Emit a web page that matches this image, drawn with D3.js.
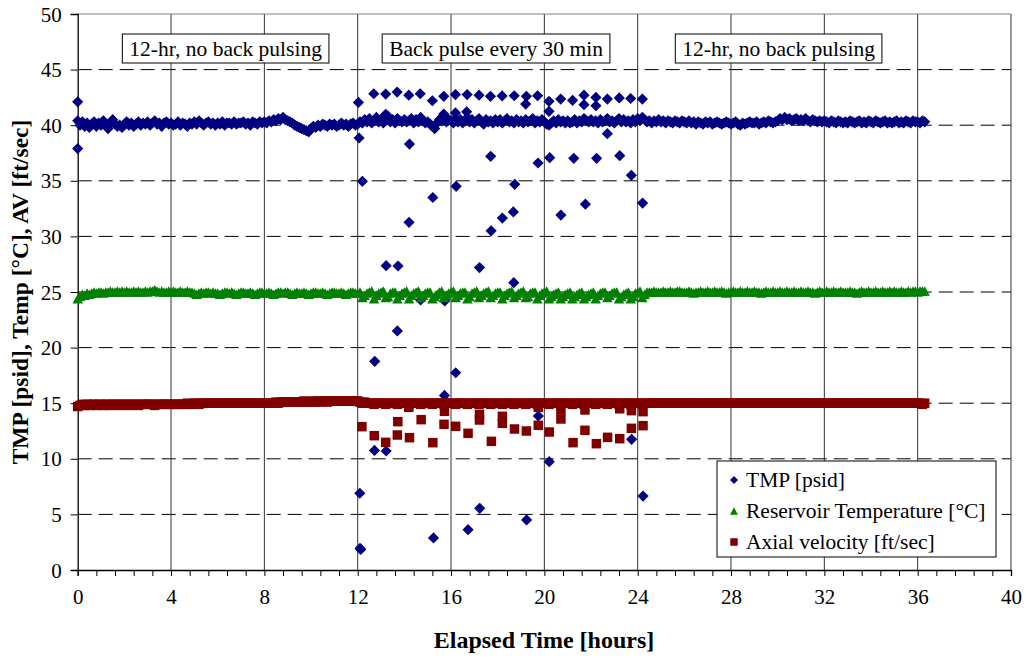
<!DOCTYPE html>
<html>
<head>
<meta charset="utf-8">
<script src="https://cdn.jsdelivr.net/npm/d3@7"></script>
<style>
  body { margin: 0; background: #fff; }
  svg { display: block; }
  text { font-family: "Liberation Serif", "Times New Roman", serif; fill: #000; }
</style>
</head>
<body>
<svg id="chart" width="1026" height="659"></svg>
<script>
// Logged readings, one sample every 0.1 h from t = 0 to 36.3 h
const sampleStep = 0.1;

// Transmembrane pressure [psid], rows of one hour
const tmpSeries = [
  40.4,40.0,40.3,39.9,40.2,39.8,40.1,40.3,39.9,40.2,
  40.0,40.4,40.1,39.7,40.2,40.5,40.1,39.9,40.0,39.8,
  40.1,40.3,40.0,40.2,39.9,40.1,40.3,40.0,40.2,40.1,
  40.3,40.0,40.2,40.4,40.1,40.2,39.9,40.2,40.3,40.1,
  40.2,40.0,40.1,40.3,40.0,40.2,40.1,39.9,40.2,40.1,
  40.3,40.1,40.4,40.2,40.0,40.2,40.3,40.1,40.2,40.0,
  40.2,40.1,40.3,40.0,40.2,40.2,40.1,40.3,40.1,40.2,
  40.2,40.3,40.1,40.2,40.0,40.3,40.2,40.1,40.3,40.2,
  40.3,40.2,40.4,40.3,40.5,40.4,40.6,40.5,40.7,40.5,
  40.4,40.3,40.2,40.0,39.9,39.8,39.7,39.6,39.5,39.4,
  39.7,39.9,39.8,40.0,39.9,40.1,40.0,39.9,40.1,40.0,
  40.1,39.9,40.0,40.2,40.0,40.1,39.9,40.1,40.2,40.0,
  40.1,40.3,40.2,40.5,40.3,40.6,40.2,40.4,40.7,40.3,
  40.5,40.2,40.4,40.8,40.3,40.5,40.2,40.6,40.4,40.3,
  40.5,40.3,40.4,40.6,40.2,40.5,40.3,40.7,40.4,40.2,
  40.3,40.1,39.9,39.7,40.2,40.5,40.4,40.8,40.3,40.5,
  40.4,40.2,40.6,40.3,40.5,40.2,40.4,40.7,40.3,40.5,
  40.2,40.4,40.6,40.3,40.1,40.5,40.3,40.4,40.2,40.5,
  40.3,40.5,40.2,40.4,40.6,40.3,40.4,40.2,40.5,40.3,
  40.4,40.2,40.5,40.3,40.4,40.6,40.2,40.4,40.3,40.5,
  40.3,40.1,40.0,40.2,40.4,40.2,40.5,40.3,40.4,40.2,
  40.4,40.2,40.3,40.5,40.2,40.4,40.3,40.6,40.4,40.3,
  40.5,40.3,40.4,40.2,40.5,40.3,40.4,40.6,40.3,40.4,
  40.2,40.4,40.6,40.3,40.5,40.3,40.4,40.2,40.5,40.3,
  40.6,40.4,40.7,40.5,40.3,40.4,40.2,40.4,40.3,40.5,
  40.3,40.4,40.2,40.4,40.3,40.2,40.4,40.3,40.2,40.4,
  40.3,40.2,40.4,40.2,40.3,40.1,40.3,40.2,40.1,40.3,
  40.2,40.3,40.1,40.2,40.3,40.2,40.1,40.2,40.3,40.2,
  40.1,40.2,40.3,40.1,40.0,40.2,40.1,40.2,40.3,40.2,
  40.2,40.3,40.1,40.2,40.3,40.2,40.4,40.3,40.2,40.3,
  40.4,40.6,40.5,40.7,40.5,40.6,40.4,40.5,40.6,40.4,
  40.5,40.4,40.6,40.4,40.3,40.5,40.4,40.3,40.4,40.3,
  40.4,40.3,40.2,40.4,40.3,40.2,40.4,40.3,40.2,40.3,
  40.2,40.4,40.3,40.2,40.3,40.4,40.2,40.3,40.2,40.4,
  40.3,40.2,40.4,40.3,40.2,40.3,40.4,40.2,40.3,40.2,
  40.3,40.4,40.2,40.3,40.2,40.4,40.3,40.2,40.4,40.3,
  40.3,40.2,40.4,40.3
];

// Reservoir temperature [°C]
const tempSeries = [
  24.4,24.6,24.8,24.7,24.9,24.8,24.9,25.0,24.9,25.0,
  25.0,24.9,25.0,25.0,25.1,25.0,25.0,25.1,25.0,25.1,
  25.0,25.1,25.0,25.0,25.1,25.0,25.1,25.0,25.0,25.1,
  25.0,25.1,25.1,25.2,25.1,25.0,25.1,25.0,25.0,25.1,
  25.0,25.1,25.0,25.0,25.1,25.0,25.0,25.1,25.0,25.0,
  24.9,24.8,24.9,25.0,24.9,25.0,25.0,24.9,25.0,24.9,
  24.9,24.8,24.9,25.0,25.0,24.9,25.0,24.9,24.8,24.9,
  25.0,25.0,24.9,24.9,25.0,24.9,24.8,24.9,25.0,25.0,
  24.9,24.9,25.0,24.9,24.8,24.9,25.0,25.0,24.9,25.0,
  25.0,24.9,24.8,24.9,25.0,24.9,24.9,25.0,24.9,24.8,
  24.9,25.0,25.0,24.9,24.9,25.0,24.9,24.8,24.9,25.0,
  25.0,24.9,24.9,25.0,24.9,24.8,24.9,25.0,25.0,24.9,
  24.9,25.0,24.5,24.7,24.9,25.0,25.1,24.4,24.7,24.9,
  25.0,25.1,24.5,24.6,24.9,25.0,25.0,24.4,24.7,24.9,
  25.0,25.1,24.4,24.7,24.9,25.0,25.1,24.5,24.7,24.9,
  25.0,25.0,24.4,24.6,24.8,25.0,25.1,24.5,24.7,24.9,
  25.0,25.1,24.5,24.7,24.9,25.0,25.0,24.4,24.6,24.9,
  25.0,25.1,24.5,24.7,24.9,25.0,25.1,24.5,24.7,24.9,
  25.0,25.0,24.4,24.7,24.9,25.0,25.1,24.5,24.7,24.9,
  25.0,25.1,24.5,24.6,24.9,25.0,25.0,24.4,24.7,24.9,
  25.0,25.1,24.4,24.6,24.8,24.9,25.0,24.4,24.6,24.8,
  24.9,25.0,24.4,24.6,24.8,24.9,25.0,24.4,24.6,24.8,
  24.9,25.0,24.4,24.7,24.9,25.0,25.0,24.5,24.7,24.9,
  25.0,25.0,24.4,24.6,24.8,24.9,25.0,24.4,24.6,24.9,
  25.0,25.1,24.5,24.8,25.0,25.0,25.0,25.1,25.0,25.0,
  25.0,25.1,25.0,25.0,25.1,25.0,25.0,25.1,25.1,25.0,
  25.0,25.0,25.1,25.0,24.9,25.0,25.0,25.1,25.0,25.0,
  25.1,25.0,25.0,25.1,25.0,25.0,25.1,25.0,24.9,25.0,
  25.0,25.1,25.0,25.0,25.1,25.0,25.0,25.1,25.0,25.0,
  25.1,25.0,25.0,24.9,25.0,25.1,25.0,25.0,25.1,25.0,
  25.0,25.1,25.0,25.0,25.1,25.0,25.0,25.1,25.0,25.0,
  25.1,25.0,25.0,25.1,25.0,25.0,24.9,25.0,25.1,25.0,
  25.0,25.1,25.0,25.0,25.1,25.0,25.0,25.1,25.0,25.0,
  25.0,25.1,25.0,25.0,24.9,25.0,25.1,25.0,25.0,25.1,
  25.0,25.0,25.1,25.0,25.0,25.1,25.0,25.0,25.1,25.0,
  25.1,25.0,25.0,25.1,25.0,25.0,25.1,25.0,25.1,25.1,
  25.0,25.1,25.1,25.1
];

// Axial velocity [ft/sec]
const avSeries = [
  14.7,14.8,14.9,14.8,14.9,14.8,14.9,14.9,14.8,14.9,
  14.9,14.8,14.9,14.9,14.8,14.9,14.9,14.9,14.8,14.9,
  14.9,14.9,14.8,14.9,14.9,14.9,14.8,14.9,14.9,14.9,
  14.9,14.9,14.9,14.8,14.9,14.9,14.9,14.9,14.9,14.9,
  14.9,14.9,14.9,14.9,14.9,14.9,14.9,15.0,14.9,14.9,
  15.0,15.0,14.9,15.0,15.0,15.0,15.0,15.0,15.0,15.0,
  15.0,15.0,15.0,15.0,15.0,15.0,15.0,15.0,15.0,15.0,
  15.0,15.0,15.0,15.0,15.0,15.0,15.0,15.0,15.0,15.0,
  15.0,15.0,15.0,15.0,15.0,15.1,15.0,15.1,15.1,15.1,
  15.1,15.1,15.1,15.1,15.1,15.1,15.1,15.2,15.1,15.1,
  15.1,15.2,15.1,15.2,15.1,15.2,15.2,15.1,15.2,15.2,
  15.2,15.2,15.2,15.2,15.2,15.2,15.2,15.2,15.2,15.2,
  15.2,15.1,15.0,15.1,15.0,15.0,15.0,14.9,15.0,15.0,
  15.0,15.0,14.9,15.0,15.0,15.0,15.0,14.9,15.0,15.0,
  15.0,15.0,14.9,15.0,15.0,15.0,15.0,14.9,15.0,15.0,
  15.0,15.0,14.9,15.0,15.0,15.0,15.0,14.9,15.0,15.0,
  15.0,15.0,14.9,15.0,15.0,15.0,15.0,14.9,15.0,15.0,
  15.0,15.0,14.9,15.0,15.0,15.0,15.0,14.9,15.0,15.0,
  15.0,15.0,14.9,15.0,15.0,15.0,15.0,14.9,15.0,15.0,
  15.0,15.0,14.9,15.0,15.0,15.0,15.0,14.9,15.0,15.0,
  15.0,15.0,14.9,15.0,15.0,15.0,15.0,14.9,15.0,15.0,
  15.0,15.0,14.9,15.0,15.0,15.0,15.0,14.9,15.0,15.0,
  15.0,15.0,14.9,15.0,15.0,15.0,15.0,14.9,15.0,15.0,
  15.0,15.0,14.9,15.0,15.0,15.0,15.0,14.9,15.0,15.0,
  15.0,15.0,14.9,15.0,15.0,15.0,15.0,15.0,15.0,15.0,
  15.0,15.0,15.0,15.0,15.0,15.0,15.0,15.0,15.0,15.0,
  15.0,15.0,15.0,15.0,15.0,15.0,15.0,15.0,15.0,15.0,
  15.0,15.0,15.0,15.0,15.0,15.0,15.0,15.0,15.0,15.0,
  15.0,15.0,15.0,15.0,15.0,15.0,15.0,15.0,15.0,15.0,
  15.0,15.0,15.0,15.0,15.0,15.0,15.0,15.0,15.0,15.0,
  15.0,15.0,15.0,15.0,15.0,15.0,15.0,15.0,15.0,15.0,
  15.0,15.0,15.0,15.0,15.0,15.0,15.0,15.0,15.0,15.0,
  15.0,15.0,15.0,15.0,15.0,15.0,15.0,15.0,15.0,15.0,
  15.0,15.0,15.0,15.0,15.0,15.0,15.0,15.0,15.0,15.0,
  15.0,15.0,15.0,15.0,15.0,15.0,15.0,15.0,15.0,15.0,
  15.0,15.0,15.0,15.0,15.0,15.0,15.0,15.0,15.0,15.0,
  15.0,15.0,14.9,15.0
];

// Extra TMP readings caught during start-up and the back-pulse transients
const tmpEventTime = [
  0.0, 0.0, 12.03, 12.06, 12.09, 12.10, 12.13, 12.20, 12.69, 12.72, 12.73,
  13.20, 13.20, 13.22, 13.22, 13.69, 13.70, 13.73,
  14.19, 14.22, 14.20, 14.68, 14.70,
  15.20, 15.22, 15.25, 15.69, 15.69, 15.72, 15.73,
  16.19, 16.19, 16.22, 16.20, 16.69, 16.67, 16.73,
  17.20, 17.22, 17.23, 17.69, 17.70, 17.72,
  18.19, 18.20, 18.71, 18.73, 18.67, 18.69,
  19.23, 19.20, 19.24, 19.71, 19.73, 19.74,
  20.20, 20.20, 20.23, 20.21, 20.70, 20.71,
  21.21, 21.26, 21.70, 21.70, 21.76,
  22.21, 22.21, 22.24, 22.70, 22.70,
  23.21, 23.23, 23.70, 23.73, 23.74,
  24.20, 24.21, 24.23
];
const tmpEventValue = [
  42.1, 37.9, 42.05, 38.85, 6.9, 1.95, 1.85, 34.95, 42.83, 10.75, 18.77,
  42.8, 40.98, 27.37, 10.7, 42.98, 21.5, 27.34,
  42.7, 38.3, 31.27, 42.83, 24.28,
  42.2, 33.5, 2.88, 42.6, 41.0, 15.7, 24.2,
  42.75, 41.1, 34.5, 17.74, 42.75, 41.2, 3.63,
  42.7, 27.2, 5.55, 42.6, 37.2, 30.5,
  42.63, 31.65, 42.65, 34.68, 32.2, 25.84,
  42.6, 41.9, 4.5, 42.65, 36.6, 13.85,
  42.15, 41.25, 37.08, 9.74, 42.35, 31.92,
  42.24, 37.02, 42.7, 41.85, 32.9,
  42.5, 41.75, 37.02, 42.35, 39.24,
  42.45, 37.26, 42.4, 35.49, 11.75,
  42.35, 33.0, 6.65
];

// Axial velocity readings during the back pulses
const avEventTime = [
  12.18, 12.71, 13.20, 13.72, 13.70, 14.22, 14.19, 14.72, 15.22, 15.72, 15.70,
  16.20, 16.73, 17.22, 17.22, 17.73, 18.20, 18.20, 18.72, 19.23, 19.74, 19.74,
  20.21, 20.71, 20.71, 21.23, 21.74, 21.74, 22.23, 22.71, 23.23, 23.23,
  23.73, 23.73, 24.23, 24.23
];
const avEventValue = [
  12.89, 12.08, 11.48, 13.34, 12.14, 11.9, 14.63, 13.52, 11.45, 14.27, 13.1,
  12.92, 12.29, 14.0, 13.49, 11.57, 13.82, 13.19, 12.68, 12.5, 13.01, 14.63,
  12.41, 14.39, 13.58, 11.45, 14.39, 12.56, 11.36, 11.93, 11.81, 14.5,
  12.74, 14.33, 12.98, 14.24
];

const xLabelTicks = [0, 4, 8, 12, 16, 20, 24, 28, 32, 36, 40];
const yTickValues = [0, 5, 10, 15, 20, 25, 30, 35, 40, 45, 50];
const phaseNames = ["12-hr, no back pulsing", "Back pulse every 30 min", "12-hr, no back pulsing"];
const seriesNames = ["TMP [psid]", "Reservoir Temperature [°C]", "Axial velocity [ft/sec]"];
const seriesColors = ["#000080", "#008000", "#800000"];

// ---- layout ----
const plot = { left: 77.7, right: 1011, top: 14, bottom: 570 };
const phaseCenterHours = [6.34, 17.93, 30.04];

const svg = d3.select("#chart");
const x = d3.scaleLinear().domain([0, 40]).range([plot.left, plot.right]);
const y = d3.scaleLinear().domain([0, 50]).range([plot.bottom, plot.top]);

const tOf = i => +(i * sampleStep).toFixed(2);

// marker shapes
const diamond = r => `M0,${-r}L${r},0L0,${r}L${-r},0Z`;
const triangle = (w, h) => `M0,${-h / 2}L${w / 2},${h / 2}L${-w / 2},${h / 2}Z`;
const square = s => `M${-s / 2},${-s / 2}h${s}v${s}h${-s}Z`;

// ---- grid ----
const grid = svg.append("g");
grid.selectAll("line.h").data(yTickValues.filter(v => v > 0 && v < 50)).join("line")
  .attr("x1", plot.left).attr("x2", plot.right)
  .attr("y1", d => y(d)).attr("y2", d => y(d))
  .attr("stroke", "#000").attr("stroke-width", 1)
  .attr("stroke-dasharray", "14,7");
grid.selectAll("line.v").data(xLabelTicks.filter(v => v > 0)).join("line")
  .attr("x1", d => x(d)).attr("x2", d => x(d))
  .attr("y1", plot.top).attr("y2", plot.bottom)
  .attr("stroke", "#333").attr("stroke-width", 1);
grid.append("line")
  .attr("x1", plot.left).attr("x2", plot.right)
  .attr("y1", y(50)).attr("y2", y(50))
  .attr("stroke", "#808080").attr("stroke-width", 1.2);

// ---- axes ----
const yAxis = d3.axisLeft(y).tickValues(yTickValues).tickSize(7).tickPadding(9)
  .tickFormat(d3.format("d"));
const yG = svg.append("g").attr("transform", `translate(${plot.left},0)`).call(yAxis);
yG.select(".domain").attr("stroke", "#000").attr("stroke-width", 1.3);
yG.selectAll(".tick line").attr("stroke", "#000");
yG.selectAll(".tick text").attr("font-size", 21).attr("font-family", "Liberation Serif").attr("dy", "0.34em");

const minorX = d3.range(0, 51).map(i => +(i * 0.8).toFixed(2));
const xAxis = d3.axisBottom(x).tickValues(minorX).tickSize(6).tickPadding(13)
  .tickFormat(d => xLabelTicks.includes(d) ? String(d) : "");
const xG = svg.append("g").attr("transform", `translate(0,${plot.bottom})`).call(xAxis);
xG.select(".domain").attr("stroke", "#000").attr("stroke-width", 1.3);
xG.selectAll(".tick line").attr("stroke", "#000");
xG.selectAll(".tick text").attr("font-size", 21).attr("font-family", "Liberation Serif");

// axis titles
svg.append("text")
  .attr("x", 544).attr("y", 648)
  .attr("text-anchor", "middle")
  .attr("font-size", 24).attr("font-weight", "bold")
  .text("Elapsed Time [hours]");
svg.append("text")
  .attr("transform", `translate(28,${(plot.top + plot.bottom) / 2}) rotate(-90)`)
  .attr("text-anchor", "middle")
  .attr("font-size", 23.5).attr("font-weight", "bold")
  .text("TMP [psid], Temp [°C], AV [ft/sec]");

// ---- series ----
const marks = svg.append("g");

const tmpPoints = [];
tmpSeries.forEach((v, i) => tmpPoints.push([tOf(i), v]));
tmpEventTime.forEach((t, i) => tmpPoints.push([t, tmpEventValue[i]]));
tmpPoints.sort((a, b) => a[0] - b[0]);

marks.append("g").selectAll("path").data(tmpPoints).join("path")
  .attr("transform", d => `translate(${x(d[0])},${y(d[1])})`)
  .attr("d", diamond(5.6))
  .attr("fill", seriesColors[0]);

marks.append("g").selectAll("path").data(tempSeries).join("path")
  .attr("transform", (d, i) => `translate(${x(tOf(i))},${y(d)})`)
  .attr("d", triangle(10.5, 9.5))
  .attr("fill", seriesColors[1]);

const avPoints = [];
avSeries.forEach((v, i) => avPoints.push([tOf(i), v]));
avEventTime.forEach((t, i) => avPoints.push([t, avEventValue[i]]));
avPoints.sort((a, b) => a[0] - b[0]);

marks.append("g").selectAll("path").data(avPoints).join("path")
  .attr("transform", d => `translate(${x(d[0])},${y(d[1])})`)
  .attr("d", square(9.5))
  .attr("fill", seriesColors[2]);

// ---- phase labels ----
const phaseG = svg.append("g");
phaseNames.forEach((name, i) => {
  const g = phaseG.append("g");
  const cx = x(phaseCenterHours[i]);
  const rect = g.append("rect").attr("fill", "#fff").attr("stroke", "#000").attr("stroke-width", 1);
  const t = g.append("text").attr("x", cx).attr("y", 56)
    .attr("text-anchor", "middle").attr("font-size", 21.5).text(name);
  const w = t.node().getComputedTextLength();
  rect.attr("x", cx - w / 2 - 7).attr("y", 34).attr("width", w + 14).attr("height", 29);
});

// ---- legend ----
const legend = svg.append("g");
legend.append("rect")
  .attr("x", 717).attr("y", 461).attr("width", 279).attr("height", 96)
  .attr("fill", "#fff").attr("stroke", "#000").attr("stroke-width", 1);
const legendShapes = [diamond(4), triangle(8, 7.5), square(7.5)];
seriesNames.forEach((name, i) => {
  const cy = 480 + i * 31;
  legend.append("path")
    .attr("transform", `translate(734,${cy})`)
    .attr("d", legendShapes[i]).attr("fill", seriesColors[i]);
  legend.append("text")
    .attr("x", 746).attr("y", cy + 7)
    .attr("font-size", 21.5).text(name);
});
</script>
</body>
</html>
